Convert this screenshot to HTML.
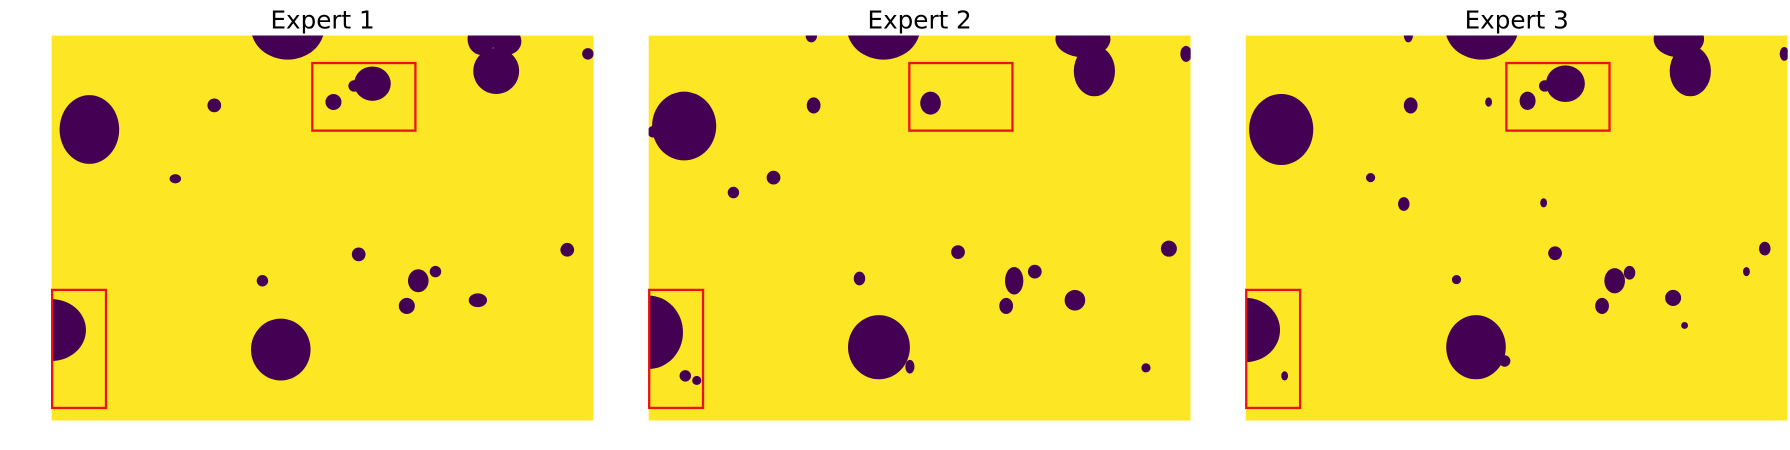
<!DOCTYPE html>
<html><head><meta charset="utf-8"><style>
html,body{margin:0;padding:0;background:#fff;width:1790px;height:450px;overflow:hidden}
svg{display:block}
text{font-family:"DejaVu Sans","Liberation Sans",sans-serif;font-size:21.5px;fill:#000}
</style></head><body>
<svg id="fig" width="1790" height="450" viewBox="0 0 1562 392.7" preserveAspectRatio="none" xmlns="http://www.w3.org/2000/svg">
<defs>
<clipPath id="c0"><rect x="45" y="31" width="473" height="336"/></clipPath>
<clipPath id="c1"><rect x="566" y="31" width="473" height="336"/></clipPath>
<clipPath id="c2"><rect x="1087" y="31" width="473" height="336"/></clipPath>
</defs>
</svg>
<script>
const titles = ["Expert 1","Expert 2","Expert 3"];
const panelX = [45,566,1087];
// blobs per panel: [cx, cy, rx, ry] in display coordinates
const blobs1 = [[251,24,32,28],[420,34,12,14],[442,36,13,12],[433,62,20,20],[513,47,5,5],[78,113,26,30],[187,92,6,6],[291,89,7,7],[325,73,16,15],[309,75,5,5],[153,156,5,4],[313,222,6,6],[495,218,6,6],[229,245,5,5],[365,245,9,10],[380,237,5,5],[355,267,7,7],[417,262,8,6],[45,288,30,27],[245,305,26,27]];
const blobs2 = [[771,24,32,28],[708,31,5,6],[945,34,24,16],[955,62,18,22],[1035,47,5,7],[597,110,28,30],[570,115,5,5],[710,92,6,7],[812,90,9,10],[675,155,6,6],[640,168,5,5],[836,220,6,6],[1020,217,7,7],[750,243,5,6],[885,245,8,12],[903,237,6,6],[878,267,6,7],[938,262,9,9],[566,290,30,32],[598,328,5,5],[608,332,4,4],[767,303,27,28],[794,320,4,6],[1000,321,4,4]];
const blobs3 = [[1293,24,32,28],[1229,31,4,6],[1465,34,22,16],[1475,62,18,22],[1557,47,4,6],[1118,113,28,31],[1231,92,6,7],[1299,89,3,4],[1333,88,7,8],[1366,73,17,16],[1348,75,5,5],[1196,155,4,4],[1225,178,5,6],[1347,177,3,4],[1357,221,6,6],[1540,217,5,6],[1271,244,4,4],[1409,245,9,11],[1422,238,5,6],[1398,267,6,7],[1460,260,7,7],[1524,237,3,4],[1470,284,3,3],[1087,288,30,28],[1121,328,3,4],[1288,303,26,28],[1313,315,5,5]];
const allBlobs = [blobs1, blobs2, blobs3];
// red highlight boxes relative to panel: [x, y, w, h]
const boxes = [[227,24,90,59],[0,222,47,103]];
const NS = "http://www.w3.org/2000/svg";
const svg = document.getElementById('fig');
for (let p = 0; p < 3; p++) {
  const x0 = panelX[p];
  const g = document.createElementNS(NS,'g');
  
  
  const t = document.createElementNS(NS,'text');
  
  
  t.setAttribute('x', x0 + 236.5); t.setAttribute('y', 25);
  t.setAttribute('text-anchor', 'middle');
  t.textContent = titles[p];
  g.appendChild(t);
  const img = document.createElementNS(NS,'g');
  img.setAttribute('clip-path', 'url(#c' + p + ')');
  const bg = document.createElementNS(NS,'rect');
  
  
  bg.setAttribute('x', x0); bg.setAttribute('y', 31); bg.setAttribute('width', 473); bg.setAttribute('height', 336);
  bg.setAttribute('fill', '#fde725');
  img.appendChild(bg);
  allBlobs[p].forEach(b => {
    const e = document.createElementNS(NS,'ellipse');
    
    
    e.setAttribute('cx', b[0]); e.setAttribute('cy', b[1]); e.setAttribute('rx', b[2]); e.setAttribute('ry', b[3]);
    e.setAttribute('fill', '#440154');
    img.appendChild(e);
  });
  g.appendChild(img);
  boxes.forEach(bx => {
    const r = document.createElementNS(NS,'rect');
    
    
    r.setAttribute('x', x0 + bx[0] + 0.5); r.setAttribute('y', 31 + bx[1]); r.setAttribute('width', bx[2]); r.setAttribute('height', bx[3]);
    r.setAttribute('fill', 'none'); r.setAttribute('stroke', '#ee1111'); r.setAttribute('stroke-width', 2);
    g.appendChild(r);
  });
  svg.appendChild(g);
}
</script>
</body></html>
